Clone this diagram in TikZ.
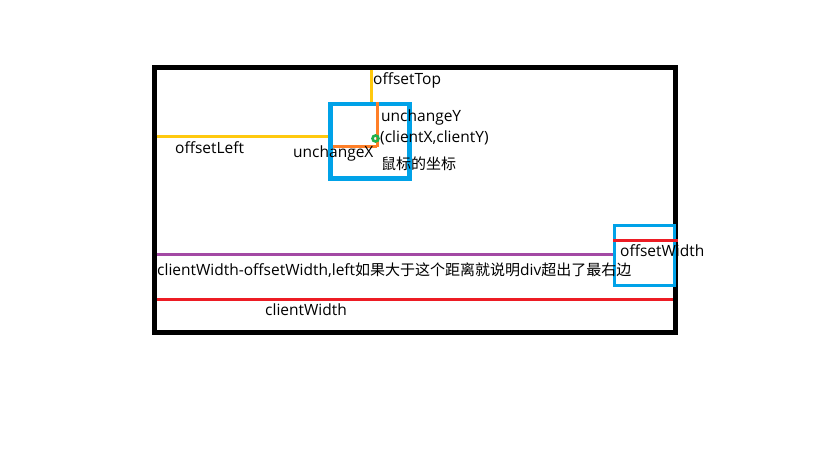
\documentclass[tikz,border=0pt]{standalone}
\usepackage{fontspec}
\setmainfont{Open Sans}
\newfontfamily\cjkfont{Noto Sans CJK SC}
\newcommand{\zh}[1]{{\cjkfont\fontsize{15}{16}\selectfont #1}}
\usepackage{tikz}

\definecolor{paintblue}{RGB}{0,162,232}
\definecolor{paintyellow}{RGB}{255,201,14}
\definecolor{paintorange}{RGB}{255,127,39}
\definecolor{paintgreen}{RGB}{34,177,76}
\definecolor{paintpurple}{RGB}{163,73,164}
\definecolor{paintred}{RGB}{237,28,36}

\begin{document}
\begin{tikzpicture}[x=1pt,y=-1pt,
    lbl/.style={inner sep=0pt, anchor=west, font=\fontsize{15.5}{16}\selectfont}]
          \useasboundingbox (0,0) rectangle (819,460);
          \draw[line width=5pt] (154,67.5) rectangle (675.5,332.5);
          \draw[line width=4.5pt, paintblue] (330.5,104) rectangle (409.5,178.5);
          \draw[line width=3pt, paintyellow] (371,70) -- (371,102);
          \draw[line width=3pt, paintyellow] (156.5,136.5) -- (328,136.5);
          \draw[line width=3pt, paintorange] (377,102) -- (377,146.5);
          \draw[line width=3pt, paintorange] (332.5,146.5) -- (377,146.5);
          \draw[line width=2.6pt, paintgreen] (375.5,138.5) circle (3pt);
          \draw[line width=3pt, paintblue] (614,225) rectangle (674.5,285.5);
          \draw[line width=3pt, paintred] (613,240) -- (678,240);
          \draw[line width=3pt, paintpurple] (156.5,254.5) -- (612.5,254.5);
          \draw[line width=3pt, paintred] (156.5,299.5) -- (673,299.5);
          \node[lbl] (top) at (373,80) {offsetTop};
          \node[lbl] (uny) at (381,117) {unchangeY};
          \node[lbl] (client) at (380,138) {(clientX,clientY)};
          \node[lbl] (mouse) at (381,164) {\zh{鼠标的坐标}};
          \node[lbl] (left) at (175,148) {offsetLeft};
          \node[lbl] (unx) at (293,153) {unchangeX};
          \node[lbl] (ow) at (620,251) {offsetWidth};
          \node[lbl] (diff) at (157,270) {clientWidth-offsetWidth,left\zh{如果大于这个距离就说明}div\zh{超出了最右边}};
          \node[lbl] (cw) at (265,310) {clientWidth};
        \end{tikzpicture}
\end{document}
